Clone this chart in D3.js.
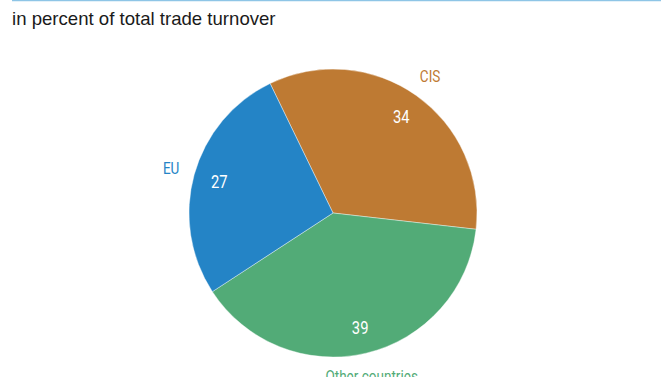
<!DOCTYPE html>
<html>
<head>
<meta charset="utf-8">
<script src="https://cdn.jsdelivr.net/npm/d3@7"></script>
<style>
  html, body { margin: 0; padding: 0; background: #fff; }
  svg { display: block; }
</style>
</head>
<body>
<svg id="chart" width="661" height="377"></svg>
<script>
// Trade turnover shares by partner group
const categories = ["CIS", "Other countries", "EU"];
const shares = [34, 39, 27];
const colors = ["#BE7A33", "#52AB77", "#2484C6"];
const subtitle = "in percent of total trade turnover";

const width = 661, height = 377;
const cx = 333, cy = 213, radius = 144;
const startAngle = -0.452;

const svg = d3.select("#chart");

// thin rule across the top
svg.append("line")
  .attr("x1", 12).attr("x2", width)
  .attr("y1", 0.5).attr("y2", 0.5)
  .attr("stroke", "#8EC5E6").attr("stroke-width", 1.5);

svg.append("text")
  .attr("x", 12).attr("y", 25)
  .attr("font-family", "'Liberation Sans', Arial, sans-serif")
  .attr("font-size", 18.6)
  .attr("fill", "#1a1a1a")
  .text(subtitle);

const data = categories.map((c, i) => ({ name: c, value: shares[i], color: colors[i] }));

const pie = d3.pie()
  .sort(null)
  .value(d => d.value)
  .startAngle(startAngle)
  .endAngle(startAngle + 2 * Math.PI);

const arcs = pie(data);
const arc = d3.arc().innerRadius(0).outerRadius(radius);
const valueArc = d3.arc().innerRadius(118).outerRadius(118);
const labelArc = d3.arc().innerRadius(168).outerRadius(168);

const g = svg.append("g").attr("transform", `translate(${cx},${cy})`);

g.selectAll("path.slice")
  .data(arcs)
  .join("path")
  .attr("class", "slice")
  .attr("d", arc)
  .attr("fill", d => d.data.color)
  .attr("stroke", "#fff")
  .attr("stroke-width", 0.4);

// condensed-looking labels: squeeze the glyphs horizontally
function placeText(sel, arcGen) {
  sel.attr("transform", d => {
    const [x, y] = arcGen.centroid(d);
    return `translate(${x},${y}) scale(0.82,1)`;
  });
}

g.selectAll("text.value")
  .data(arcs)
  .join("text")
  .attr("class", "value")
  .call(placeText, valueArc)
  .attr("text-anchor", "middle")
  .attr("dy", "0.36em")
  .attr("font-family", "Roboto, sans-serif")
  .attr("font-size", 18)
  .attr("fill", "#fff")
  .text(d => d.data.value);

g.selectAll("text.name")
  .data(arcs)
  .join("text")
  .attr("class", "name")
  .call(placeText, labelArc)
  .attr("text-anchor", "middle")
  .attr("dy", "0.36em")
  .attr("font-family", "Roboto, sans-serif")
  .attr("font-size", 16.5)
  .attr("fill", d => d.data.color)
  .text(d => d.data.name);
</script>
</body>
</html>
